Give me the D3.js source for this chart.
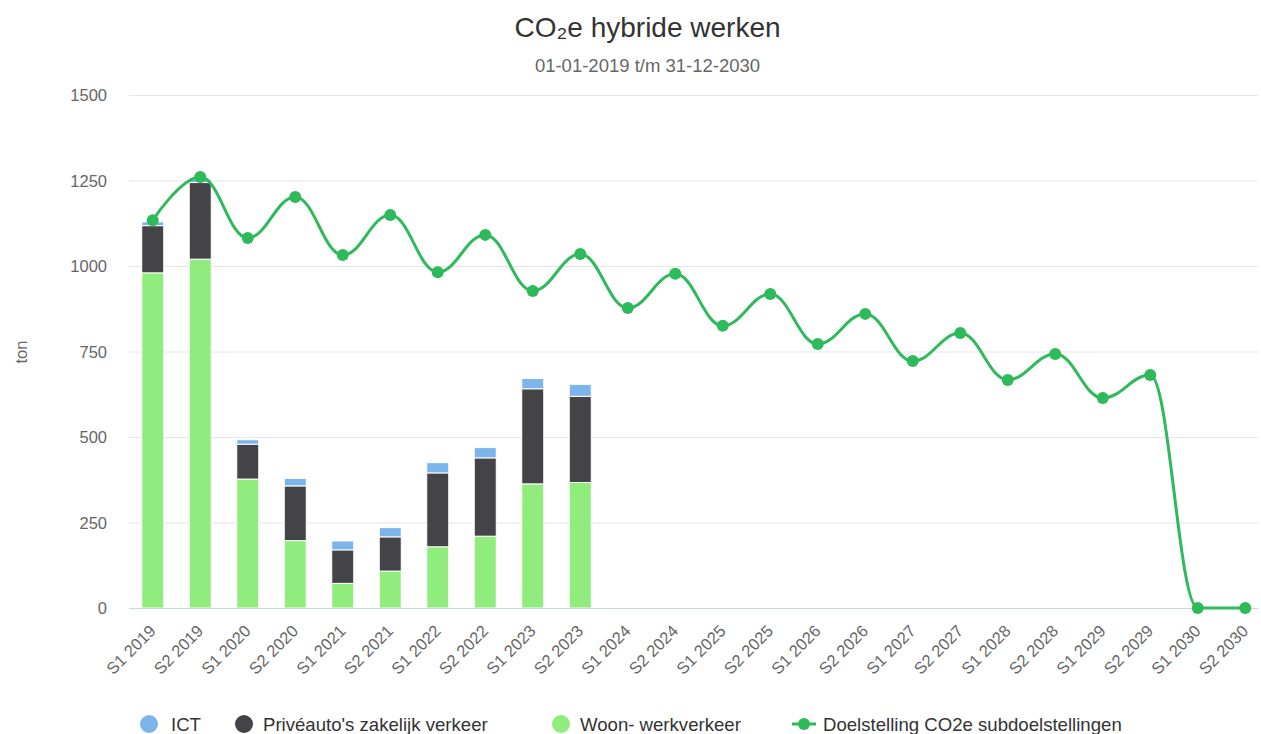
<!DOCTYPE html>
<html><head><meta charset="utf-8">
<script src="https://cdn.jsdelivr.net/npm/d3@7"></script>
<style>
html,body{margin:0;padding:0;background:#fff;}
svg{display:block;font-family:"Liberation Sans",Arial,Helvetica,sans-serif;}
</style></head>
<body>
<svg id="chart" width="1261" height="734"></svg>
<script>
const categories = ["S1 2019","S2 2019","S1 2020","S2 2020","S1 2021","S2 2021","S1 2022","S2 2022","S1 2023","S2 2023","S1 2024","S2 2024","S1 2025","S2 2025","S1 2026","S2 2026","S1 2027","S2 2027","S1 2028","S2 2028","S1 2029","S2 2029","S1 2030","S2 2030"];
const woonWerk = [980,1020,377,197,72,108,179,210,363,367,null,null,null,null,null,null,null,null,null,null,null,null,null,null];
const priveauto = [138,224,102,160,98,100,216,229,278,252,null,null,null,null,null,null,null,null,null,null,null,null,null,null];
const ict = [11,10,13,22,26,27,30,30,30,35,null,null,null,null,null,null,null,null,null,null,null,null,null,null];
const doelstelling = [1134,1260,1082,1202,1032,1149,982,1091,927,1035,877,977,825,918,772,860,722,804,667,743,614,681,0,0];
const yTicks = [0,250,500,750,1000,1250,1500];
const seriesNames = ["ICT","Privéauto's zakelijk verkeer","Woon- werkverkeer","Doelstelling CO2e subdoelstellingen"];
const colors = {ict:"#7cb5ec", prive:"#434348", woon:"#90ed7d", line:"#2eb95a"};

const svg = d3.select("#chart");
const pLeft = 129, pRight = 1269, pTop = 95, pBottom = 608;

const x = d3.scaleBand().domain(categories).range([pLeft, pRight]).paddingInner(0).paddingOuter(0);
const y = d3.scaleLinear().domain([0,1500]).range([pBottom, pTop]);
const cx = c => x(c) + x.bandwidth()/2;
const barW = x.bandwidth()*0.463;

// gridlines
const yAxis = d3.axisLeft(y).tickValues(yTicks).tickSize(-(1258-pLeft)).tickFormat(d3.format("d"));
const gy = svg.append("g").attr("transform",`translate(${pLeft},0)`).call(yAxis);
gy.select(".domain").remove();
gy.selectAll(".tick line").attr("stroke","#e6e6e6").attr("stroke-width",1);
gy.selectAll(".tick text").attr("x",-22).attr("dy","0.36em").attr("fill","#666").style("font-size","16.5px").attr("text-anchor","end");

// title
svg.append("text").attr("x",647.5).attr("y",37).attr("text-anchor","middle").attr("fill","#333").style("font-size","28px").text("CO₂e hybride werken");
svg.append("text").attr("x",647.5).attr("y",72).attr("text-anchor","middle").attr("fill","#666").style("font-size","18.5px").text("01-01-2019 t/m 31-12-2030");

// y title
svg.append("text").attr("transform","translate(27,352) rotate(-90)").attr("text-anchor","middle").attr("fill","#666").style("font-size","16.5px").text("ton");

// stacked bars
const rows = categories.map((c,i)=>({cat:c, woon:woonWerk[i]||0, prive:priveauto[i]||0, ict:ict[i]||0}));
const stack = d3.stack().keys(["woon","prive","ict"]);
const stacked = stack(rows);
const barG = svg.append("g");
stacked.forEach(s=>{
  barG.append("g").selectAll("rect").data(s.filter(d=>d[1]-d[0]>0)).join("rect")
    .attr("x",d=>cx(d.data.cat)-barW/2)
    .attr("width",barW)
    .attr("y",d=>y(d[1]))
    .attr("height",d=>y(d[0])-y(d[1]))
    .attr("fill",colors[s.key])
    .attr("stroke","#fff").attr("stroke-width",1);
});

// x axis
const xAxis = d3.axisBottom(x).tickSize(0).tickSizeOuter(0);
const gx = svg.append("g").attr("transform",`translate(0,${pBottom})`).call(xAxis);
gx.select(".domain").attr("d",`M${pLeft},0.5H1258`).attr("stroke","#ccd6eb").attr("stroke-width",1);
gx.selectAll(".tick text").attr("fill","#666").style("font-size","16.5px")
  .attr("text-anchor","end").attr("dy",null).attr("y",0)
  .attr("transform","translate(4,24) rotate(-45)");

// spline (Highcharts-like)
const pts = doelstelling.map((v,i)=>({x:cx(categories[i]), y:y(v)}));
const sm = 1.5, den = sm+1;
let d = "";
pts.forEach((p,i)=>{
  if(i===0){ d += `M${p.x},${p.y}`; return; }
  const last = pts[i-1], next = pts[i+1];
  let lcx=p.x, lcy=p.y;
  if(next){
    lcx=(sm*p.x+last.x)/den; lcy=(sm*p.y+last.y)/den;
    const rcx=(sm*p.x+next.x)/den; let rcy=(sm*p.y+next.y)/den;
    let corr=0;
    if(rcx!==lcx) corr=((rcy-lcy)*(rcx-p.x))/(rcx-lcx)+p.y-rcy;
    lcy+=corr; rcy+=corr;
    if(lcy>last.y && lcy>p.y){ lcy=Math.max(last.y,p.y); rcy=2*p.y-lcy; }
    else if(lcy<last.y && lcy<p.y){ lcy=Math.min(last.y,p.y); rcy=2*p.y-lcy; }
    if(rcy>next.y && rcy>p.y){ rcy=Math.max(next.y,p.y); lcy=2*p.y-rcy; }
    else if(rcy<next.y && rcy<p.y){ rcy=Math.min(next.y,p.y); lcy=2*p.y-rcy; }
    p.rcx=rcx; p.rcy=rcy;
  }
  const r1x = last.rcx!==undefined?last.rcx:last.x, r1y = last.rcy!==undefined?last.rcy:last.y;
  d += `C${r1x},${r1y} ${lcx},${lcy} ${p.x},${p.y}`;
});
svg.append("path").attr("d",d).attr("fill","none").attr("stroke",colors.line).attr("stroke-width",3).attr("stroke-linejoin","round").attr("stroke-linecap","round");
svg.append("g").selectAll("circle").data(doelstelling).join("circle")
  .attr("cx",(v,i)=>cx(categories[i])).attr("cy",v=>y(v)).attr("r",6).attr("fill",colors.line);

// legend
const lg = svg.append("g").style("font-size","18.6px").attr("fill","#333");
const legendItems = [
  {name:seriesNames[0], color:colors.ict, sx:149, tx:171, type:"c"},
  {name:seriesNames[1], color:colors.prive, sx:244, tx:263, type:"c"},
  {name:seriesNames[2], color:colors.woon, sx:561, tx:580, type:"c"},
  {name:seriesNames[3], color:colors.line, sx:804, tx:823, type:"l"}
];
legendItems.forEach(it=>{
  if(it.type==="c"){
    lg.append("circle").attr("cx",it.sx).attr("cy",724).attr("r",9).attr("fill",it.color);
  } else {
    lg.append("line").attr("x1",it.sx-12).attr("x2",it.sx+12).attr("y1",724).attr("y2",724).attr("stroke",it.color).attr("stroke-width",3);
    lg.append("circle").attr("cx",it.sx).attr("cy",724).attr("r",6).attr("fill",it.color);
  }
  lg.append("text").attr("x",it.tx).attr("y",731).attr("fill","#333").text(it.name);
});
</script>
</body></html>
